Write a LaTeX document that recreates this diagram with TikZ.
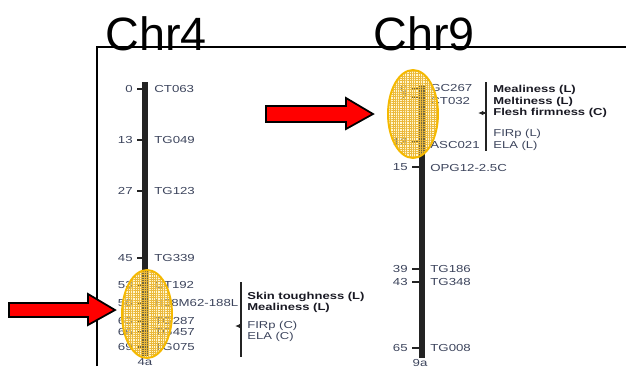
\documentclass[tikz,border=0pt]{standalone}
\usepackage{fontspec}
\setmainfont{Liberation Sans}
\newfontfamily\mapfont[FakeStretch=1.3]{Liberation Sans}
\usepackage{tikz}
\usetikzlibrary{patterns.meta,arrows.meta}

\definecolor{mapgray}{RGB}{60,68,92}
\definecolor{traitblack}{RGB}{25,25,35}
\definecolor{qtlgold}{RGB}{245,185,0}
\definecolor{qtlfill}{RGB}{255,232,120}
\definecolor{qtlgrid}{RGB}{235,185,60}
\definecolor{barblack}{RGB}{35,35,35}

\tikzset{
  num/.style={anchor=east,inner sep=0pt,text=mapgray,font=\mapfont\fontsize{5.8}{6}\selectfont},
  mrk/.style={anchor=west,inner sep=0pt,text=mapgray,font=\mapfont\fontsize{5.8}{6}\selectfont},
  trait/.style={anchor=west,inner sep=0pt,text=traitblack,font=\mapfont\bfseries\fontsize{5.7}{6}\selectfont},
  gene/.style={anchor=west,inner sep=0pt,text=mapgray,font=\mapfont\fontsize{5.7}{6}\selectfont},
  chrtitle/.style={anchor=base west,inner sep=0pt,font=\fontsize{26.6}{30}\selectfont},
  tick/.style={barblack,line width=0.7pt},
  bracket/.style={barblack,line width=0.6pt},
  qtlfillst/.style={fill=qtlfill,fill opacity=0.35},
  qtlgridst/.style={pattern={Hatch[angle=0,distance=1.3pt,line width=0.25pt]},pattern color=qtlgrid,fill opacity=0.45},
  qtlline/.style={draw=qtlgold,line width=1.1pt},
  redarrow/.style={fill=red,draw=black,line width=1pt,line join=miter}
}

\begin{document}
\begin{tikzpicture}[x=0.02cm,y=-0.02cm]
  \useasboundingbox (0,0) rectangle (626,366);
  \clip (0,0) rectangle (626,366);

  % frame and titles
  \draw[line width=0.85pt] (97,366) -- (97,47) -- (626,47);
  \node[chrtitle] (chr4) at (105,50) {Chr4};
  \node[chrtitle] (chr9) at (373,50) {Chr9};

  % linkage group 4a
  \draw[barblack,line width=3pt] (145,82) -- (145,356);
  \node[num] (c4n0) at (133,89) {0};
  \node[num] (c4n13) at (133,140) {13};
  \node[num] (c4n27) at (133,191) {27};
  \node[num] (c4n45) at (133,258) {45};
  \node[num] (c4n53) at (133,285) {53};
  \node[num] (c4n58) at (133,303) {58};
  \node[num] (c4n63) at (133,321) {63};
  \node[num] (c4n66) at (133,332) {66};
  \node[num] (c4n69) at (133,347) {69};
  \draw[tick] (c4n0.east) ++(4,0) -- ++(6,0);
  \draw[tick] (c4n13.east) ++(4,0) -- ++(6,0);
  \draw[tick] (c4n27.east) ++(4,0) -- ++(6,0);
  \draw[tick] (c4n45.east) ++(4,0) -- ++(6,0);
  \draw[tick] (c4n53.east) ++(4,0) -- ++(6,0);
  \draw[tick] (c4n58.east) ++(4,0) -- ++(6,0);
  \draw[tick] (c4n63.east) ++(4,0) -- ++(6,0);
  \draw[tick] (c4n66.east) ++(4,0) -- ++(6,0);
  \draw[tick] (c4n69.east) ++(4,0) -- ++(6,0);
  \node[mrk] (c4m0) at (154,89) {CT063};
  \node[mrk] (c4m13) at (154,140) {TG049};
  \node[mrk] (c4m27) at (154,191) {TG123};
  \node[mrk] (c4m45) at (154,258) {TG339};
  \node[mrk] (c4m53) at (154,285) {CT192};
  \node[mrk] (c4m58) at (154,303) {H38M62-188L};
  \node[mrk] (c4m63) at (154,321) {TG287};
  \node[mrk] (c4m66) at (154,332) {TG457};
  \node[mrk] (c4m69) at (154,347) {TG075};
  \node[mrk,anchor=center] (lg4) at (145,362) {4a};

  % linkage group 9a
  \draw[barblack,line width=3.8pt] (422,85) -- (422,358);
  \node[num] (c9n0) at (408,89) {0};
  \node[num] (c9n2) at (408,97) {2};
  \node[num] (c9n13) at (408,142) {13};
  \node[num] (c9n15) at (408,167) {15};
  \node[num] (c9n39) at (408,269) {39};
  \node[num] (c9n43) at (408,282) {43};
  \node[num] (c9n65) at (408,348) {65};
  \draw[tick] (c9n0.east) ++(4,0) -- ++(7,0);
  \draw[tick] (c9n2.east) ++(4,0) -- ++(7,0);
  \draw[tick] (c9n13.east) ++(4,0) -- ++(7,0);
  \draw[tick] (c9n15.east) ++(4,0) -- ++(7,0);
  \draw[tick] (c9n39.east) ++(4,0) -- ++(7,0);
  \draw[tick] (c9n43.east) ++(4,0) -- ++(7,0);
  \draw[tick] (c9n65.east) ++(4,0) -- ++(7,0);
  \node[mrk] (c9m0) at (430,88) {GC267};
  \node[mrk] (c9m2) at (430,101) {CT032};
  \node[mrk] (c9m13) at (430,145) {ASC021};
  \node[mrk] (c9m15) at (430,168) {OPG12-2.5C};
  \node[mrk] (c9m39) at (430,269) {TG186};
  \node[mrk] (c9m43) at (430,282) {TG348};
  \node[mrk] (c9m65) at (430,348) {TG008};
  \node[mrk,anchor=center] (lg9) at (420,363) {9a};

  % QTL regions
  \fill[qtlfillst] (147,314) ellipse [x radius=25,y radius=44];
  \fill[qtlgridst] (147,314) ellipse [x radius=25,y radius=44];
  \draw[qtlline] (147,314) ellipse [x radius=25,y radius=44];
  \fill[qtlfillst] (413,114) ellipse [x radius=25,y radius=44];
  \fill[qtlgridst] (413,114) ellipse [x radius=25,y radius=44];
  \draw[qtlline] (413,114) ellipse [x radius=25,y radius=44];

  % traits on 4a
  \coordinate (b4top) at (241,282);
  \coordinate (b4bot) at (241,357);
  \draw[bracket] (b4top) -- (b4bot);
  \draw[bracket,-{Latex[length=3pt,width=2.6pt]}] (241,326) -- (235,326);
  \node[trait] (skin) at (247,297) {Skin toughness (L)};
  \node[trait] (meal4) at (247,308) {Mealiness (L)};
  \node[gene] (firp4) at (247,326) {FIRp (C)};
  \node[gene] (ela4) at (247,337) {ELA (C)};

  % traits on 9a
  \coordinate (b9top) at (486,82);
  \coordinate (b9bot) at (486,151);
  \draw[bracket] (b9top) -- (b9bot);
  \draw[bracket,-{Latex[length=3pt,width=2.6pt]}] (486,113) -- (478,113);
  \node[trait] (meal9) at (493,90) {Mealiness (L)};
  \node[trait] (melt9) at (493,102) {Meltiness (L)};
  \node[trait] (flesh9) at (493,113) {Flesh firmness (C)};
  \node[gene] (firp9) at (493,134) {FIRp (L)};
  \node[gene] (ela9) at (493,146) {ELA (L)};

  % red pointers
  \draw[redarrow] (9,303) -- (88,303) -- (88,294) -- (115,310) -- (88,325) -- (88,317) -- (9,317) -- cycle;
  \draw[redarrow] (266,106) -- (346,106) -- (346,98) -- (373,114) -- (346,129) -- (346,122) -- (266,122) -- cycle;
\end{tikzpicture}
\end{document}
